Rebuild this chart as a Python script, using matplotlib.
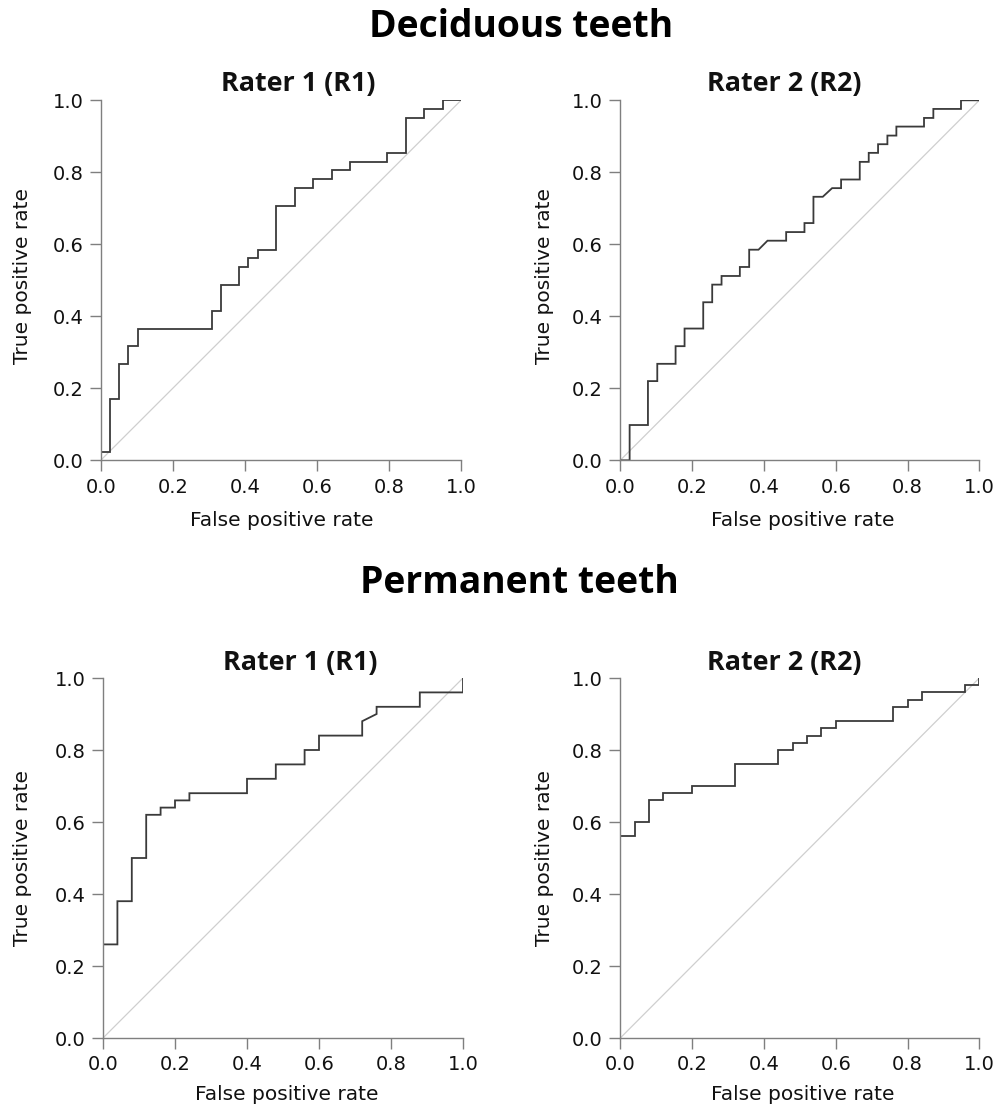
import matplotlib
matplotlib.use("Agg")
import matplotlib.pyplot as plt

# ---- data (ROC curve vertices) ----
dec_r1_fpr = [0, 0, 0.026, 0.026, 0.051, 0.051, 0.077, 0.077, 0.103, 0.103, 0.308, 0.308,
              0.333, 0.333, 0.385, 0.385, 0.410, 0.410, 0.436, 0.436, 0.487, 0.487, 0.538,
              0.538, 0.590, 0.590, 0.641, 0.641, 0.692, 0.692, 0.795, 0.795, 0.846, 0.846,
              0.897, 0.897, 0.949, 0.949, 1.0]
dec_r1_tpr = [0, 0.024, 0.024, 0.171, 0.171, 0.268, 0.268, 0.317, 0.317, 0.366, 0.366, 0.415,
              0.415, 0.488, 0.488, 0.537, 0.537, 0.561, 0.561, 0.585, 0.585, 0.707, 0.707,
              0.756, 0.756, 0.780, 0.780, 0.805, 0.805, 0.829, 0.829, 0.854, 0.854, 0.951,
              0.951, 0.976, 0.976, 1.0, 1.0]

dec_r2_fpr = [0, 0.026, 0.026, 0.077, 0.077, 0.103, 0.103, 0.154, 0.154, 0.179, 0.179, 0.231,
              0.231, 0.256, 0.256, 0.282, 0.282, 0.333, 0.333, 0.359, 0.359, 0.385, 0.410,
              0.462, 0.462, 0.513, 0.513, 0.538, 0.538, 0.564, 0.590, 0.615, 0.615, 0.667,
              0.667, 0.692, 0.692, 0.718, 0.718, 0.744, 0.744, 0.769, 0.769, 0.846, 0.846,
              0.872, 0.872, 0.949, 0.949, 1.0]
dec_r2_tpr = [0, 0, 0.098, 0.098, 0.220, 0.220, 0.268, 0.268, 0.317, 0.317, 0.366, 0.366,
              0.439, 0.439, 0.488, 0.488, 0.512, 0.512, 0.537, 0.537, 0.585, 0.585, 0.610,
              0.610, 0.634, 0.634, 0.659, 0.659, 0.732, 0.732, 0.756, 0.756, 0.780, 0.780,
              0.829, 0.829, 0.854, 0.854, 0.878, 0.878, 0.902, 0.902, 0.927, 0.927, 0.951,
              0.951, 0.976, 0.976, 1.0, 1.0]

per_r1_fpr = [0, 0, 0.04, 0.04, 0.08, 0.08, 0.12, 0.12, 0.16, 0.16, 0.20, 0.20, 0.24, 0.24,
              0.40, 0.40, 0.48, 0.48, 0.56, 0.56, 0.60, 0.60, 0.72, 0.72, 0.76, 0.76, 0.88,
              0.88, 1.0, 1.0]
per_r1_tpr = [0, 0.26, 0.26, 0.38, 0.38, 0.50, 0.50, 0.62, 0.62, 0.64, 0.64, 0.66, 0.66, 0.68,
              0.68, 0.72, 0.72, 0.76, 0.76, 0.80, 0.80, 0.84, 0.84, 0.88, 0.90, 0.92, 0.92,
              0.96, 0.96, 1.0]

per_r2_fpr = [0, 0, 0.04, 0.04, 0.08, 0.08, 0.12, 0.12, 0.20, 0.20, 0.32, 0.32, 0.44, 0.44,
              0.48, 0.48, 0.52, 0.52, 0.56, 0.56, 0.60, 0.60, 0.76, 0.76, 0.80, 0.80, 0.84,
              0.84, 0.96, 0.96, 1.0, 1.0]
per_r2_tpr = [0, 0.56, 0.56, 0.60, 0.60, 0.66, 0.66, 0.68, 0.68, 0.70, 0.70, 0.76, 0.76, 0.80,
              0.80, 0.82, 0.82, 0.84, 0.84, 0.86, 0.86, 0.88, 0.88, 0.92, 0.92, 0.94, 0.94,
              0.96, 0.96, 0.98, 0.98, 1.0]

ticks = [0.0, 0.2, 0.4, 0.6, 0.8, 1.0]
tick_labels = ["0.0", "0.2", "0.4", "0.6", "0.8", "1.0"]
group_titles = ["Deciduous teeth", "Permanent teeth"]
rater_titles = ["Rater 1 (R1)", "Rater 2 (R2)"]
xlabel = "False positive rate"
ylabel = "True positive rate"

W, H = 1007, 1106
fig = plt.figure(figsize=(W / 100, H / 100), dpi=100)

def fx(px):
    return px / W

def fy(py):
    return 1 - py / H

# axes boxes in pixels: (left, top, right, bottom)
boxes = [
    (100.7, 100.3, 461.0, 460.3),
    (620.3, 100.3, 979.3, 460.3),
    (103.0, 678.0, 463.0, 1038.0),
    (620.3, 678.0, 979.3, 1038.0),
]
curves = [
    (dec_r1_fpr, dec_r1_tpr),
    (dec_r2_fpr, dec_r2_tpr),
    (per_r1_fpr, per_r1_tpr),
    (per_r2_fpr, per_r2_tpr),
]
title_pos = [(298, 84), (784, 84), (300, 663), (784, 663)]
xlabel_pos = [(282, 521), (803, 521), (287, 1094), (803, 1094)]
ylabel_pos = [(23, 276), (545, 276), (23, 858), (545, 858)]

title_font = ["Open Sans", "DejaVu Sans"]
axis_gray = "#7f7f7f"

for i, ((l, t, r, b), (fpr, tpr)) in enumerate(zip(boxes, curves)):
    ax = fig.add_axes([fx(l), fy(b), fx(r) - fx(l), fy(t) - fy(b)])
    ax.plot([0, 1], [0, 1], color="#cfcfcf", lw=0.9, zorder=1)
    ax.plot(fpr, tpr, color="#3a3a3a", lw=1.3, zorder=2, solid_joinstyle="miter")
    ax.set_xlim(0, 1)
    ax.set_ylim(0, 1)
    ax.set_xticks(ticks)
    ax.set_xticklabels(tick_labels)
    ax.set_yticks(ticks)
    ax.set_yticklabels(tick_labels)
    for side in ["top", "right"]:
        ax.spines[side].set_visible(False)
    for side in ["left", "bottom"]:
        ax.spines[side].set_color(axis_gray)
        ax.spines[side].set_linewidth(1.0)
    ax.tick_params(axis="both", direction="out", length=8, width=1.0, color=axis_gray,
                   labelsize=14, labelcolor="#111111", pad=4.5)
    for lab in ax.get_xticklabels() + ax.get_yticklabels():
        lab.set_fontfamily("DejaVu Sans")
    for s in ax.spines.values():
        s.set_clip_on(False)
    tx, ty = title_pos[i]
    fig.text(fx(tx), fy(ty), rater_titles[i % 2], ha="center", va="center",
             fontsize=19.4, fontweight="bold", family=title_font, color="#111111")
    xx, xy = xlabel_pos[i]
    fig.text(fx(xx), fy(xy), xlabel, ha="center", va="center", fontsize=14.5,
             family="DejaVu Sans", color="#111111")
    yx, yy = ylabel_pos[i]
    fig.text(fx(yx), fy(yy), ylabel, ha="center", va="center", fontsize=14.5,
             rotation=90, family="DejaVu Sans", color="#111111")

fig.text(fx(521), fy(27), group_titles[0], ha="center", va="center", fontsize=26.8,
         fontweight="bold", family=title_font, color="#000000")
fig.text(fx(519), fy(583), group_titles[1], ha="center", va="center", fontsize=26.8,
         fontweight="bold", family=title_font, color="#000000")

fig.savefig("out.png", dpi=100, facecolor="white")
